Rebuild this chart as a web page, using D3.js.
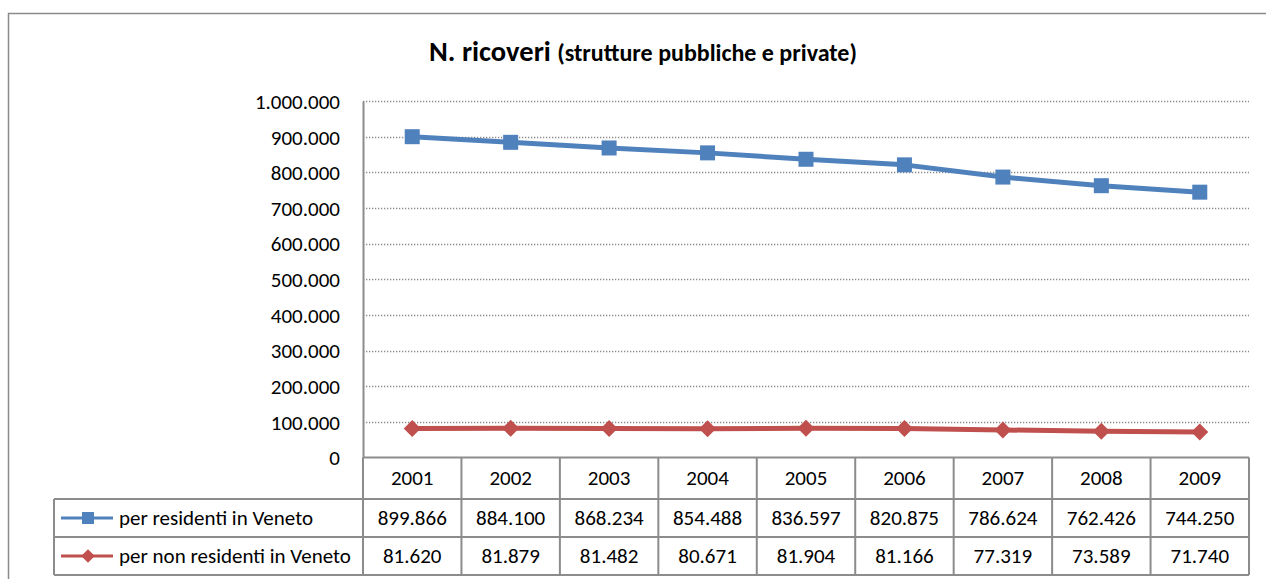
<!DOCTYPE html>
<html>
<head>
<meta charset="utf-8">
<script src="https://cdn.jsdelivr.net/npm/d3@7/dist/d3.min.js"></script>
<style>
  html, body { margin: 0; padding: 0; background: #fff; }
  svg { display: block; }
  text { font-family: Carlito, Calibri, Lato, "Open Sans", sans-serif; fill: #000; }
</style>
</head>
<body>
<svg id="chart" width="1266" height="579"></svg>
<script>
// Admissions per year (public and private facilities)
const years = ["2001", "2002", "2003", "2004", "2005", "2006", "2007", "2008", "2009"];
const residenti = [899866, 884100, 868234, 854488, 836597, 820875, 786624, 762426, 744250];
const nonResidenti = [81620, 81879, 81482, 80671, 81904, 81166, 77319, 73589, 71740];
const yTicks = [0, 100000, 200000, 300000, 400000, 500000, 600000, 700000, 800000, 900000, 1000000];
const seriesNames = ["per residenti in Veneto", "per non residenti in Veneto"];

const series = [
  { name: seriesNames[0], values: residenti, color: "#4F81BD", marker: "square" },
  { name: seriesNames[1], values: nonResidenti, color: "#C0504D", marker: "diamond" }
];

const svg = d3.select("#chart");
const plot = { left: 363, right: 1249, top: 101, bottom: 457.5 };
const rowH = [41.5, 38, 38];
const legendLeft = 54;
const gridColor = "#8c8c8c";
const fs = 21;

// Italian thousands separator
const it = d3.formatLocale({ decimal: ",", thousands: ".", grouping: [3], currency: ["€", ""] });
const fmt = it.format(",d");

// outer chart frame
svg.append("rect")
  .attr("x", 8.5).attr("y", 13.5)
  .attr("width", 1300).attr("height", 600)
  .attr("fill", "none").attr("stroke", "#8a8a8a").attr("stroke-width", 1.5);

// title
const title = svg.append("text")
  .attr("x", 643).attr("y", 61)
  .attr("text-anchor", "middle")
  .attr("font-weight", "bold");
title.append("tspan").attr("font-size", 28.5).text("N. ricoveri ");
title.append("tspan").attr("font-size", 24).text("(strutture pubbliche e private)");

const x = d3.scaleBand().domain(years).range([plot.left, plot.right]);
const y = d3.scaleLinear().domain([0, 1000000]).range([plot.bottom, plot.top]);

// dotted horizontal gridlines
svg.append("g").selectAll("line")
  .data(yTicks.filter(d => d > 0))
  .join("line")
  .attr("x1", plot.left).attr("x2", plot.right)
  .attr("y1", d => Math.round(y(d)) + 0.5).attr("y2", d => Math.round(y(d)) + 0.5)
  .attr("stroke", gridColor).attr("stroke-width", 1.3)
  .attr("stroke-dasharray", "1.3,1.7");

// y axis
const yAxis = d3.axisLeft(y).tickValues(yTicks).tickFormat(fmt).tickSize(0).tickPadding(23);
const gy = svg.append("g").attr("transform", `translate(${plot.left},0)`).call(yAxis);
gy.select(".domain").attr("stroke", gridColor).attr("stroke-width", 2);
gy.selectAll("text").attr("font-size", fs).attr("font-family", null).attr("dy", "0.35em");

// data table under the plot
const tableTop = plot.bottom;
const rows = [tableTop, tableTop + rowH[0], tableTop + rowH[0] + rowH[1], tableTop + rowH[0] + rowH[1] + rowH[2]];
const tg = svg.append("g").attr("stroke", gridColor).attr("stroke-width", 2).attr("fill", "none");
tg.append("line").attr("x1", plot.left).attr("x2", plot.right).attr("y1", rows[0]).attr("y2", rows[0]);
[1, 2, 3].forEach(r => {
  tg.append("line").attr("x1", legendLeft).attr("x2", plot.right).attr("y1", rows[r]).attr("y2", rows[r]);
});
tg.append("line").attr("x1", legendLeft).attr("x2", legendLeft).attr("y1", rows[1]).attr("y2", rows[3]);
tg.selectAll(".v").data(years.concat(["end"])).join("line")
  .attr("x1", (d, i) => plot.left + i * x.bandwidth())
  .attr("x2", (d, i) => plot.left + i * x.bandwidth())
  .attr("y1", rows[0]).attr("y2", rows[3]);

// year headers
svg.append("g").selectAll("text").data(years).join("text")
  .attr("x", d => x(d) + x.bandwidth() / 2)
  .attr("y", rows[0] + rowH[0] / 2 + 7)
  .attr("text-anchor", "middle").attr("font-size", fs)
  .text(d => d);

function drawMarker(g, cx, cy, s, k) {
  if (s.marker === "square") {
    const h = 7.5 * k;
    g.append("rect").attr("x", cx - h).attr("y", cy - h).attr("width", 2 * h).attr("height", 2 * h)
      .attr("fill", s.color);
  } else {
    const h = 8.5 * k;
    g.append("path").attr("d", `M${cx},${cy - h}L${cx + h},${cy}L${cx},${cy + h}L${cx - h},${cy}Z`)
      .attr("fill", s.color);
  }
}

// value cells and legend keys
series.forEach((s, si) => {
  const cy = rows[si + 1] + rowH[si + 1] / 2;
  svg.append("g").selectAll("text").data(s.values).join("text")
    .attr("x", (d, i) => x(years[i]) + x.bandwidth() / 2)
    .attr("y", cy + 7)
    .attr("text-anchor", "middle").attr("font-size", fs)
    .text(d => fmt(d));

  svg.append("line").attr("x1", 61).attr("x2", 113).attr("y1", cy).attr("y2", cy)
    .attr("stroke", s.color).attr("stroke-width", 3);
  drawMarker(svg, 88, cy, s, 0.8);
  svg.append("text").attr("x", 119).attr("y", cy + 6.5)
    .attr("font-size", fs).text(s.name);
});

// lines and markers
const line = d3.line()
  .x((d, i) => x(years[i]) + x.bandwidth() / 2)
  .y(d => y(d));

series.forEach(s => {
  svg.append("path").datum(s.values)
    .attr("d", line).attr("fill", "none")
    .attr("stroke", s.color).attr("stroke-width", 5)
    .attr("stroke-linejoin", "round");
  const mg = svg.append("g");
  s.values.forEach((v, i) => drawMarker(mg, x(years[i]) + x.bandwidth() / 2, y(v), s, 1));
});
</script>
</body>
</html>
